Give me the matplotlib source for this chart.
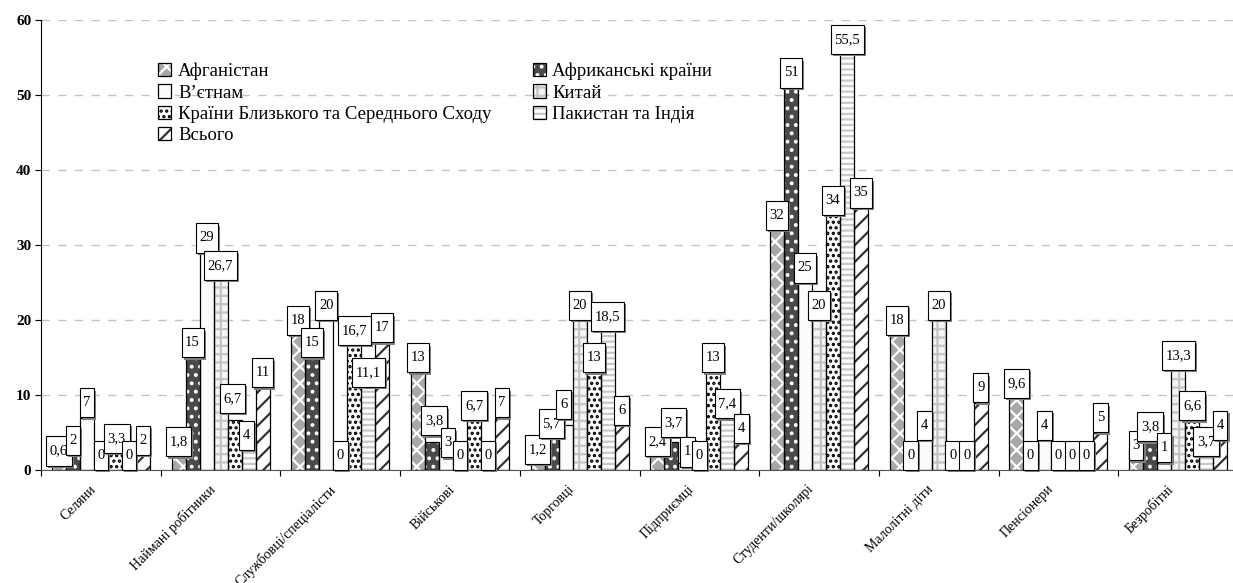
import matplotlib

matplotlib.use("Agg")
import matplotlib.pyplot as plt
import matplotlib.patheffects as pe
import numpy as np
from matplotlib.legend_handler import HandlerTuple
from matplotlib.patches import Patch
from matplotlib.path import Path

# категорії зайнятості мігрантів
categories = ["Селяни", "Наймані робітники", "Службовці/спеціалісти", "Військові",
              "Торговці", "Підприємці", "Студенти/школярі", "Малолітні діти",
              "Пенсіонери", "Безробітні"]

afghanistan = [0.6, 1.8, 18, 13, 1.2, 2.4, 32, 18, 9.6, 3]
africa = [2, 15, 15, 3.8, 5.7, 3.7, 51, 0, 0, 3.8]
vietnam = [7, 29, 20, 3, 6, 1, 25, 4, 4, 1]
china = [0, 26.7, 0, 0, 20, 0, 20, 20, 0, 13.3]
middle_east = [3.3, 6.7, 16.7, 6.7, 13, 13, 34, 0, 0, 6.6]
pak_india = [0, 4, 11.1, 0, 18.5, 7.4, 55.5, 0, 0, 3.7]
total = [2, 11, 17, 7, 6, 4, 35, 9, 5, 4]

series_names = ["Афганістан", "Африканські країни", "В’єтнам", "Китай",
                "Країни Близького та Середнього Сходу", "Пакистан та Індія", "Всього"]
series = [afghanistan, africa, vietnam, china, middle_east, pak_india, total]

# заливка: (колір фону, штрихування, колір штрихування)
styles = [("#a8a8a8", "xx", "white"),
          ("#4a4a4a", "..", "white"),
          ("#fbfbfb", "", "#fbfbfb"),
          ("#f4f4f4", "++", "#c4c4c4"),
          ("white", "...", "black"),
          ("white", "---", "#c8c8c8"),
          ("white", "//", "#333333")]

# ручні зсуви підписів (пікселі), як у вихідному документі
nudge = {(0, 4): (2, -8), (1, 3): (0, -10), (1, 4): (-2, 7), (1, 5): (-2, -10),
         (3, 1): (2, 6), (3, 2): (2, -10), (4, 0): (0, -3), (4, 1): (0, -11),
         (4, 2): (-2, 6), (5, 0): (0, -4), (5, 1): (2, 5), (5, 2): (2, -4),
         (5, 5): (0, -4), (5, 6): (0, -3), (9, 0): (0, -13), (9, 5): (0, -14)}

PADX, PADY = 0.25, 0.55


def tall_box(x0, y0, width, height, mutation_size):
    px, py = PADX * mutation_size, PADY * mutation_size
    x0, y0 = x0 - px, y0 - py
    x1, y1 = x0 + width + 2 * px, y0 + height + 2 * py
    return Path([(x0, y0), (x1, y0), (x1, y1), (x0, y1), (x0, y0)], closed=True)


plt.rcParams["font.family"] = ["Liberation Serif", "DejaVu Serif"]
plt.rcParams["hatch.linewidth"] = 1.6

fig = plt.figure(figsize=(12.33, 5.83), dpi=100)
ax = fig.add_axes([41 / 1233, 113 / 583, 1197 / 1233, 450 / 583])

x = np.arange(len(categories))
w = 0.117
fs = 10.5
handles = []
for i, (vals, (fc, hatch, hc)) in enumerate(zip(series, styles)):
    pos = x + (i - 3) * w
    ax.bar(pos, vals, w, color=fc, hatch=hatch, edgecolor=hc, linewidth=0, zorder=2)
    ax.bar(pos, vals, w, fill=False, edgecolor="black", linewidth=0.9, zorder=3)
    handles.append((Patch(facecolor=fc, hatch=hatch, edgecolor=hc, linewidth=0),
                    Patch(fill=False, edgecolor="black", linewidth=0.9)))
    for j, v in enumerate(vals):
        dx, dy = nudge.get((j, i), (0, 0))
        t = ax.annotate(f"{v:g}".replace(".", ","), (pos[j], v),
                        xytext=(dx * 0.72, fs * PADY + dy * 0.72), textcoords="offset points",
                        ha="center", va="bottom", fontsize=fs, zorder=5,
                        bbox=dict(boxstyle=tall_box, fc="white", ec="black", lw=0.8))
        t.get_bbox_patch().set_path_effects(
            [pe.SimplePatchShadow(offset=(1.5, -1.5), shadow_rgbFace="#808080", alpha=1),
             pe.Normal()])

ax.set_xlim(-0.5, len(categories) - 0.5)
ax.set_ylim(0, 60)
ax.set_yticks(range(0, 61, 10))
ax.set_yticklabels([str(v) for v in range(0, 61, 10)], fontweight="bold", fontsize=11)
ax.grid(axis="y", color="#c4c4c4", linestyle=(0, (6, 6)), linewidth=1, zorder=0)
ax.set_axisbelow(True)

# поділки між категоріями, підписи трохи лівіше центру (як у Excel)
ax.set_xticks(np.arange(len(categories) + 1) - 0.5)
ax.set_xticklabels([])
ax.set_xticks(x - 0.1, minor=True)
ax.set_xticklabels(categories, minor=True, rotation=45, ha="right", va="top",
                   rotation_mode="anchor", fontsize=10)
ax.tick_params(axis="x", which="minor", length=0, pad=9)
ax.tick_params(axis="x", which="major", length=4, direction="out")
ax.tick_params(axis="y", length=4, direction="out", pad=3)
for s in ("top", "right"):
    ax.spines[s].set_visible(False)
ax.spines["left"].set_color("black")
ax.spines["bottom"].set_color("#555555")

order = [0, 2, 4, 6, 1, 3, 5]
ax.legend([handles[k] for k in order], [series_names[k] for k in order],
          handler_map={tuple: HandlerTuple(ndivide=1)},
          loc="upper left", bbox_to_anchor=(0.098, 0.905), ncol=2, frameon=False,
          fontsize=13.5, handlelength=0.7, handleheight=0.7, handletextpad=0.35,
          columnspacing=2.2, labelspacing=0.22, borderpad=0, borderaxespad=0)

fig.savefig("out.png", dpi=100)
